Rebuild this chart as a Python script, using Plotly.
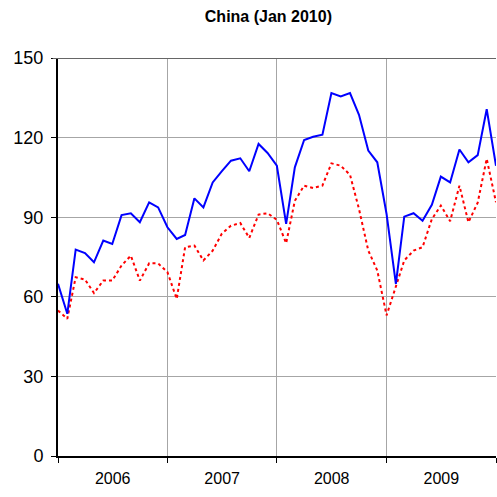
import pandas as pd
import plotly.graph_objects as go

months = pd.date_range("2006-01-01", periods=49, freq="MS")

blue_values = [64.9, 53.6, 77.8, 76.5, 73.0, 81.2, 79.9, 90.8, 91.5, 88.1, 95.6, 93.7,
               86.2, 81.8, 83.3, 97.1, 93.7, 103.1, 107.3, 111.3, 112.2, 107.3, 117.6, 114.2,
               109.4, 87.5, 108.8, 119.1, 120.3, 121.1, 136.8, 135.5, 136.8, 128.6, 115.1, 110.7,
               91.2, 64.9, 90.2, 91.5, 88.7, 94.7, 105.3, 103.1, 115.5, 110.7, 113.4, 130.7,
               109.4]

red_values = [54.8, 51.7, 67.4, 66.5, 61.4, 66.1, 66.1, 71.8, 75.5, 66.1, 72.6, 72.6,
              69.3, 59.2, 78.7, 79.3, 73.7, 77.4, 83.7, 86.8, 87.8, 82.2, 91.0, 91.5,
              89.0, 80.2, 96.2, 101.9, 101.0, 101.9, 110.3, 109.4, 106.0, 93.1, 77.4, 69.9,
              53.0, 63.5, 73.7, 77.4, 78.7, 89.3, 94.4, 88.5, 101.9, 88.1, 95.5, 112.0,
              95.6]

y_ticks = [0, 30, 60, 90, 120, 150]

fig = go.Figure()
fig.add_trace(go.Scatter(x=months, y=red_values, mode="lines",
                         line=dict(color="#FF0000", width=2, dash="3px,3px"),
                         showlegend=False, hoverinfo="skip"))
fig.add_trace(go.Scatter(x=months, y=blue_values, mode="lines",
                         line=dict(color="#0000FF", width=2),
                         showlegend=False, hoverinfo="skip"))

fig.add_shape(type="line", xref="paper", yref="y", x0=-0.012, x1=1, y0=150, y1=150,
              line=dict(color="#666666", width=2))

fig.update_layout(
    width=497, height=497,
    margin=dict(l=58, r=1, t=58, b=41),
    paper_bgcolor="white", plot_bgcolor="white",
    font=dict(family="Liberation Sans, Arial, sans-serif", color="black"),
    title=dict(text="<b>China (Jan 2010)</b>", x=0.54, xanchor="center",
               y=0.968, yanchor="middle", font=dict(size=16, color="black")),
    xaxis=dict(
        range=["2006-01-01", "2010-01-01"],
        dtick="M12", tick0="2006-01-01", tickformat="%Y", ticklabelmode="period",
        showgrid=True, gridcolor="#A6A6A6", gridwidth=1,
        showline=True, linecolor="black", linewidth=2,
        ticks="outside", ticklen=5, tickcolor="black",
        tickfont=dict(size=16), ticklabelstandoff=2,
        zeroline=False,
    ),
    yaxis=dict(
        range=[0, 150], tickvals=y_ticks,
        showgrid=True, gridcolor="#A6A6A6", gridwidth=1,
        showline=True, linecolor="black", linewidth=2,
        ticks="outside", ticklen=5, tickcolor="black",
        tickfont=dict(size=18), ticklabelstandoff=4,
        zeroline=False,
    ),
)

fig.write_html("out.html", config={"displayModeBar": False},
               post_script="document.body.style.margin='0';document.body.style.padding='0';")
